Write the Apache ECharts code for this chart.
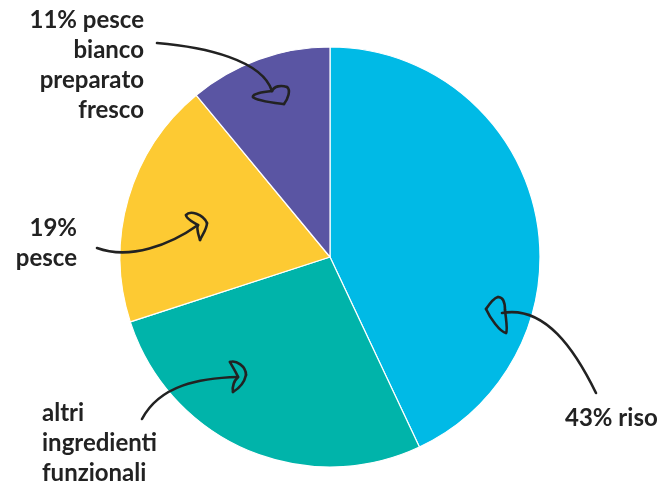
<!DOCTYPE html>
<html>
<head>
<meta charset="utf-8">
<script src="https://cdn.jsdelivr.net/npm/echarts@6/dist/echarts.min.js"></script>
<style>html,body{margin:0;padding:0;background:#fff}#c{width:662px;height:486px}</style>
</head>
<body>
<div id="c"></div>
<script>
var categories = ['riso', 'altri ingredienti funzionali', 'pesce', 'pesce bianco preparato fresco'];
var values = [43, 27, 19, 11];
var labelTexts = ['43% riso', 'altri\ningredienti\nfunzionali', '19%\npesce', '11% pesce\nbianco\npreparato\nfresco'];
var colors = ['#00BAE6', '#00B4AA', '#FDCA33', '#5A55A3'];

var labelPos = [
  {x: 565, y: 403, align: 'left'},
  {x: 42, y: 398, align: 'left'},
  {x: 77, y: 213, align: 'right'},
  {x: 144, y: 5, align: 'right'}
];

var chart = echarts.init(document.getElementById('c'));
var arrowStyle = {stroke: '#222', lineWidth: 2.6, fill: null, lineCap: 'round', lineJoin: 'round'};
// each segment: [x1,y1, cp1x,cp1y, cp2x,cp2y, x2,y2]
var arrowSegs = [
  // pesce bianco
  [157,43, 205,47, 262,60, 272,91],
  [272,91, 262,92, 252,94, 253,97],
  [253,97, 256,101, 276,103, 284,104],
  [284,104, 288,99, 291,90, 287,87],
  [287,87, 281,85, 274,86, 272,91],
  // pesce
  [97,248, 130,260, 170,245, 198,225],
  [198,225, 193,222, 186,219, 186,215],
  [186,215, 190,210, 203,214, 207,223],
  [207,223, 207,229, 202,235, 200,240],
  [200,240, 198,233, 196,228, 198,225],
  // altri
  [142,419, 160,385, 200,378, 238,377],
  [238,377, 236,372, 232,366, 230,362],
  [230,362, 236,360, 246,366, 246,375],
  [246,375, 244,384, 238,389, 233,392],
  [233,392, 232,386, 234,381, 238,377],
  // riso
  [596,393, 575,350, 545,305, 502,313],
  [486,309, 490,303, 494,298, 498,297],
  [498,297, 503,297, 505,302, 505,310],
  [505,310, 506,320, 508,330, 506,333],
  [506,333, 500,332, 490,318, 486,309]
];
var graphics = arrowSegs.map(function (s) {
  return {
    type: 'bezierCurve',
    shape: {x1: s[0], y1: s[1], cpx1: s[2], cpy1: s[3], cpx2: s[4], cpy2: s[5], x2: s[6], y2: s[7]},
    style: arrowStyle,
    z: 100
  };
});

chart.setOption({
  animation: false,
  graphic: {elements: graphics},
  series: [{
    type: 'pie',
    center: [330, 257],
    radius: 210,
    startAngle: 90,
    clockwise: true,
    avoidLabelOverlap: false,
    itemStyle: {borderColor: '#fff', borderWidth: 1.2},
    data: categories.map(function (c, i) {
      return {name: c, value: values[i], itemStyle: {color: colors[i]}};
    }),
    label: {
      show: true,
      position: 'outside',
      formatter: function (p) { return labelTexts[p.dataIndex]; },
      fontFamily: 'Lato',
      fontWeight: 'bold',
      fontSize: 24,
      lineHeight: 30,
      color: '#222'
    },
    labelLine: {show: false},
    labelLayout: function (p) {
      var lp = labelPos[p.dataIndex];
      return {x: lp.x, y: lp.y, align: lp.align, verticalAlign: 'top'};
    },
    emphasis: {disabled: true}
  }]
});
</script>
</body>
</html>
